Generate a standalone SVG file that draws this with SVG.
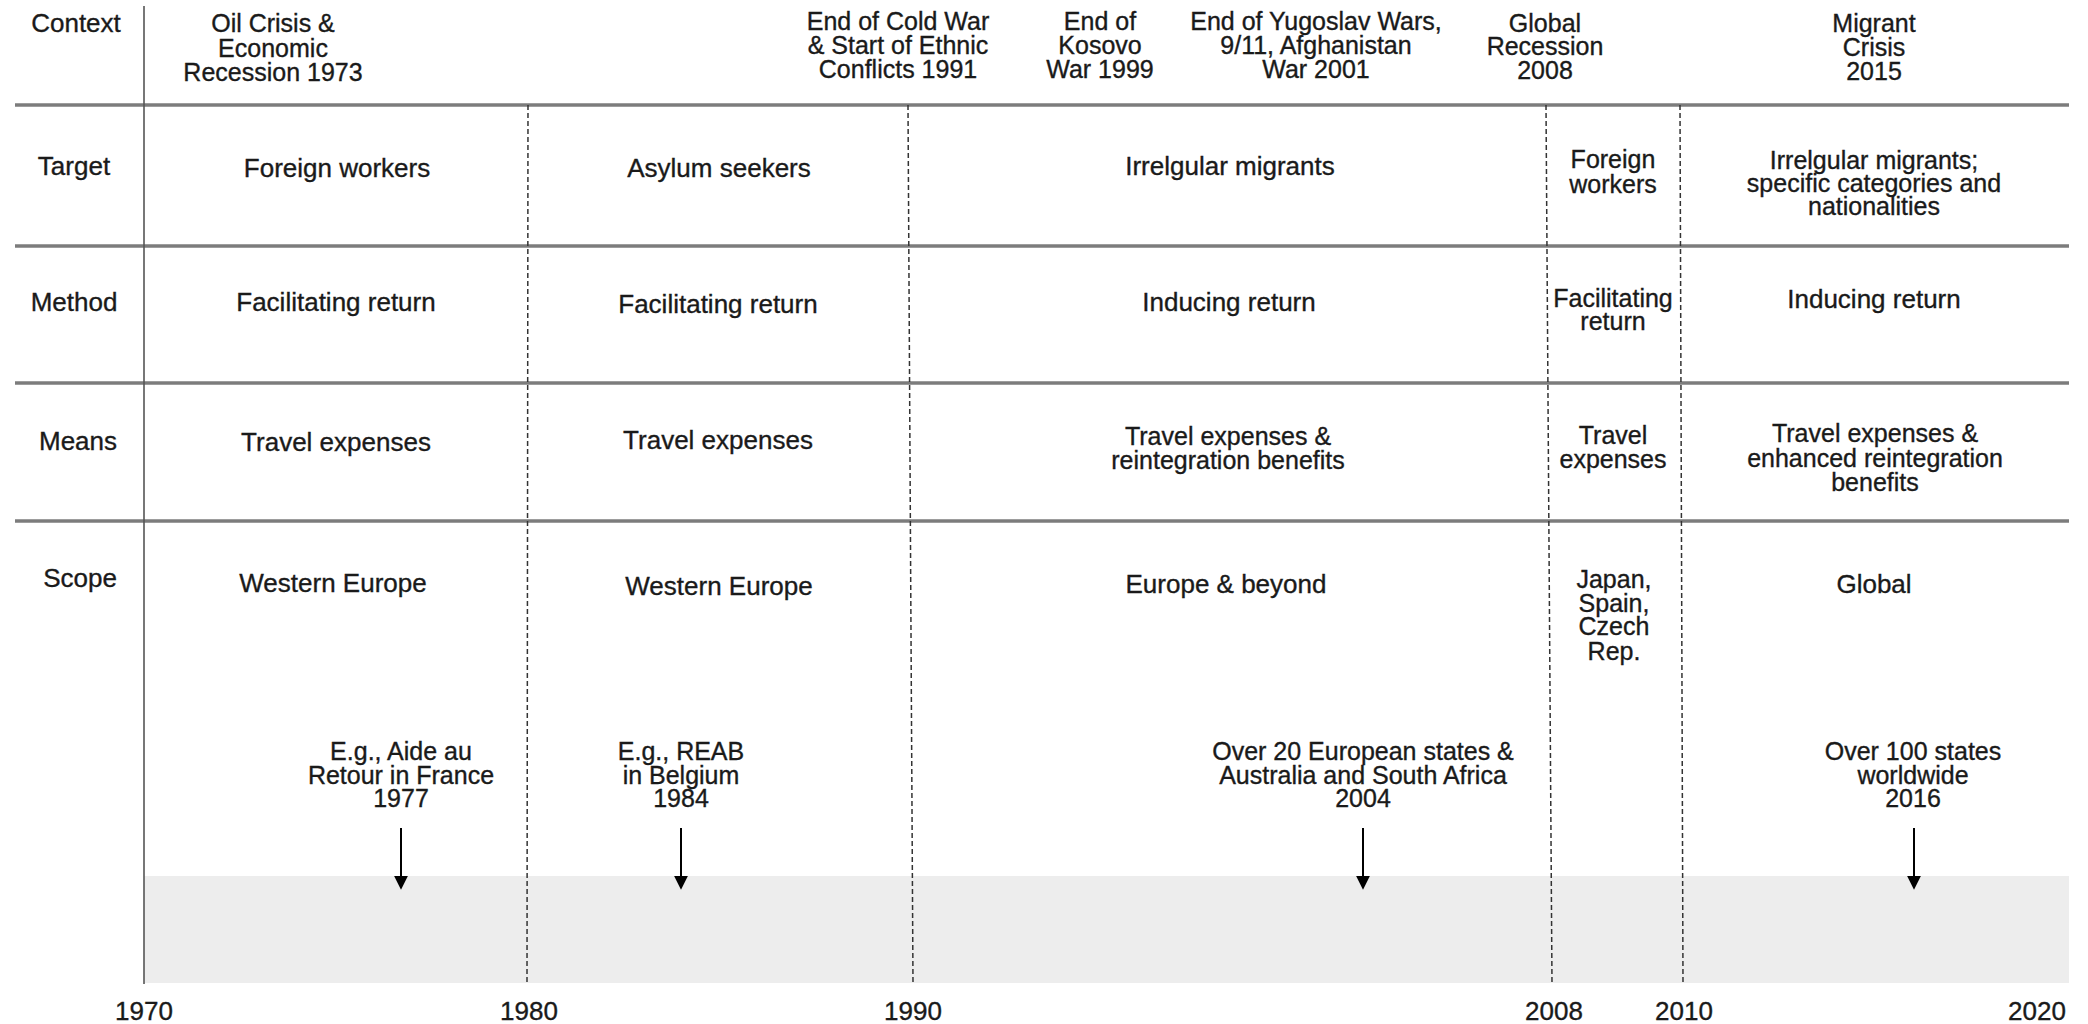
<svg xmlns="http://www.w3.org/2000/svg" width="2088" height="1024" viewBox="0 0 2088 1024">
<defs>
<style>
.t{font-family:"Liberation Sans",Arial,sans-serif;font-size:26px;fill:#1a1a1a;stroke:#1a1a1a;stroke-width:0.35;text-anchor:middle}
.h{font-size:25px}
.m{font-size:25px}
.hl{stroke:#7c7c7c;stroke-width:3.5;fill:none}
.vl{stroke:#555;stroke-width:1.6;fill:none}
.dl{stroke:#333;stroke-width:1.5;stroke-dasharray:5 3;fill:none}
.ar{stroke:#000;stroke-width:2;fill:none}
</style>
<marker id="ah" viewBox="0 0 10 10" refX="8" refY="5" markerWidth="14" markerHeight="15" markerUnits="userSpaceOnUse" orient="auto">
<path d="M0,0 L10,5 L0,10 z" fill="#000"/>
</marker>
</defs>
<rect x="0" y="0" width="2088" height="1024" fill="#fff"/>
<g id="band"><rect x="144" y="876" width="1925" height="107" fill="#ededed"/></g>
<g id="grid">
<line class="hl" x1="15" y1="105" x2="2069" y2="105"/>
<line class="hl" x1="15" y1="246" x2="2069" y2="246"/>
<line class="hl" x1="15" y1="383" x2="2069" y2="383"/>
<line class="hl" x1="15" y1="521" x2="2069" y2="521"/>
<line class="vl" x1="144" y1="6" x2="144" y2="984"/>
<line class="dl" x1="528" y1="105" x2="527" y2="984"/>
<line class="dl" x1="908" y1="105" x2="913" y2="984"/>
<line class="dl" x1="1546" y1="105" x2="1552" y2="984"/>
<line class="dl" x1="1680" y1="105" x2="1683" y2="984"/>
</g>
<g id="row-labels">
<text class="t" x="76" y="32">Context</text>
<text class="t" x="74" y="175">Target</text>
<text class="t" x="74" y="311">Method</text>
<text class="t" x="78" y="450">Means</text>
<text class="t" x="80" y="587">Scope</text>
</g>
<g id="ctx-1973"><text class="t h" x="273" y="32">Oil Crisis &amp;</text><text class="t h" x="273" y="57">Economic</text><text class="t h" x="273" y="81">Recession 1973</text></g>
<g id="ctx-1991"><text class="t h" x="898" y="30">End of Cold War</text><text class="t h" x="898" y="54">&amp; Start of Ethnic</text><text class="t h" x="898" y="78">Conflicts 1991</text></g>
<g id="ctx-1999"><text class="t h" x="1100" y="30">End of</text><text class="t h" x="1100" y="54">Kosovo</text><text class="t h" x="1100" y="78">War 1999</text></g>
<g id="ctx-2001"><text class="t h" x="1316" y="30">End of Yugoslav Wars,</text><text class="t h" x="1316" y="54">9/11, Afghanistan</text><text class="t h" x="1316" y="78">War 2001</text></g>
<g id="ctx-2008"><text class="t h" x="1545" y="32">Global</text><text class="t h" x="1545" y="55">Recession</text><text class="t h" x="1545" y="79">2008</text></g>
<g id="ctx-2015"><text class="t h" x="1874" y="32">Migrant</text><text class="t h" x="1874" y="56">Crisis</text><text class="t h" x="1874" y="80">2015</text></g>
<g id="target-1"><text class="t" x="337" y="177">Foreign workers</text></g>
<g id="target-2"><text class="t" x="719" y="177">Asylum seekers</text></g>
<g id="target-3"><text class="t" x="1230" y="175">Irrelgular migrants</text></g>
<g id="target-4"><text class="t m" x="1613" y="168">Foreign</text><text class="t m" x="1613" y="193">workers</text></g>
<g id="target-5"><text class="t m" x="1874" y="169">Irrelgular migrants;</text><text class="t m" x="1874" y="192">specific categories and</text><text class="t m" x="1874" y="215">nationalities</text></g>
<g id="method-1"><text class="t" x="336" y="311">Facilitating return</text></g>
<g id="method-2"><text class="t" x="718" y="313">Facilitating return</text></g>
<g id="method-3"><text class="t" x="1229" y="311">Inducing return</text></g>
<g id="method-4"><text class="t m" x="1613" y="307">Facilitating</text><text class="t m" x="1613" y="330">return</text></g>
<g id="method-5"><text class="t" x="1874" y="308">Inducing return</text></g>
<g id="means-1"><text class="t" x="336" y="451">Travel expenses</text></g>
<g id="means-2"><text class="t" x="718" y="449">Travel expenses</text></g>
<g id="means-3"><text class="t m" x="1228" y="445">Travel expenses &amp;</text><text class="t m" x="1228" y="469">reintegration benefits</text></g>
<g id="means-4"><text class="t m" x="1613" y="444">Travel</text><text class="t m" x="1613" y="468">expenses</text></g>
<g id="means-5"><text class="t m" x="1875" y="442">Travel expenses &amp;</text><text class="t m" x="1875" y="467">enhanced reintegration</text><text class="t m" x="1875" y="491">benefits</text></g>
<g id="scope-1"><text class="t" x="333" y="592">Western Europe</text></g>
<g id="scope-2"><text class="t" x="719" y="595">Western Europe</text></g>
<g id="scope-3"><text class="t" x="1226" y="593">Europe &amp; beyond</text></g>
<g id="scope-4"><text class="t m" x="1614" y="588">Japan,</text><text class="t m" x="1614" y="612">Spain,</text><text class="t m" x="1614" y="635">Czech</text><text class="t m" x="1614" y="660">Rep.</text></g>
<g id="scope-5"><text class="t" x="1874" y="593">Global</text></g>
<g id="ex-1977"><text class="t m" x="401" y="760">E.g., Aide au</text><text class="t m" x="401" y="784">Retour in France</text><text class="t m" x="401" y="807">1977</text></g>
<g id="ex-1984"><text class="t m" x="681" y="760">E.g., REAB</text><text class="t m" x="681" y="784">in Belgium</text><text class="t m" x="681" y="807">1984</text></g>
<g id="ex-2004"><text class="t m" x="1363" y="760">Over 20 European states &amp;</text><text class="t m" x="1363" y="784">Australia and South Africa</text><text class="t m" x="1363" y="807">2004</text></g>
<g id="ex-2016"><text class="t m" x="1913" y="760">Over 100 states</text><text class="t m" x="1913" y="784">worldwide</text><text class="t m" x="1913" y="807">2016</text></g>
<g id="connectors">
<line class="ar" x1="401" y1="828" x2="401" y2="887" marker-end="url(#ah)"/>
<line class="ar" x1="681" y1="828" x2="681" y2="887" marker-end="url(#ah)"/>
<line class="ar" x1="1363" y1="828" x2="1363" y2="887" marker-end="url(#ah)"/>
<line class="ar" x1="1914" y1="828" x2="1914" y2="887" marker-end="url(#ah)"/>
</g>
<g id="axis">
<text class="t" x="144" y="1020">1970</text>
<text class="t" x="529" y="1020">1980</text>
<text class="t" x="913" y="1020">1990</text>
<text class="t" x="1554" y="1020">2008</text>
<text class="t" x="1684" y="1020">2010</text>
<text class="t" x="2037" y="1020">2020</text>
</g>
</svg>
